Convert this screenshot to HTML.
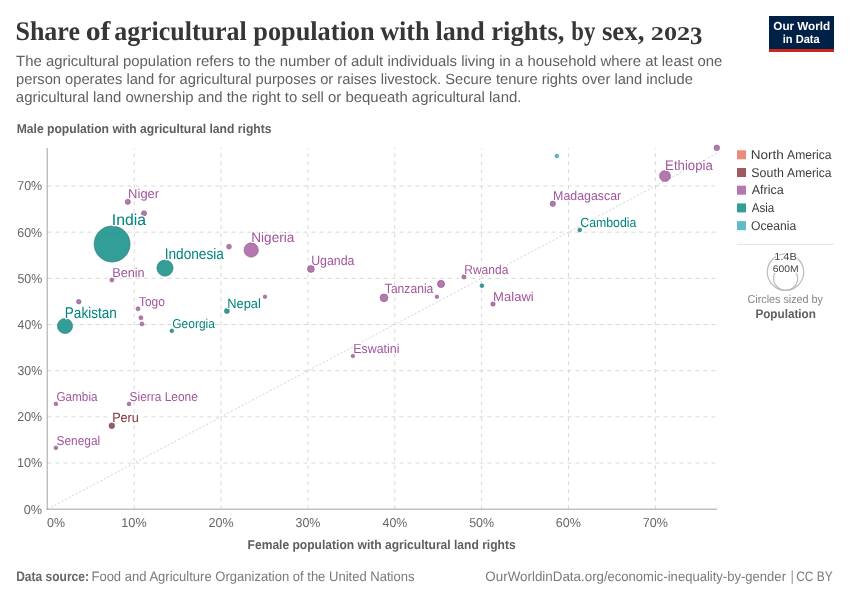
<!DOCTYPE html>
<html lang="en">
<head>
<meta charset="utf-8">
<title>Share of agricultural population with land rights, by sex, 2023</title>
<style>
html,body{margin:0;padding:0;background:#ffffff;}
body{width:850px;height:600px;overflow:hidden;}
svg{display:block;font-family:"Liberation Sans", sans-serif;will-change:transform;text-rendering:geometricPrecision;}
text{white-space:pre;}
.h{paint-order:stroke fill;stroke:#ffffff;stroke-linejoin:round;}
</style>
</head>
<body>
<svg width="850" height="600" viewBox="0 0 850 600">
<rect x="0" y="0" width="850" height="600" fill="#ffffff"/>
<text x="15.44" y="39.80" font-size="27" fill="#363636" font-family='"Liberation Serif", serif' font-weight="bold" textLength="64.47" lengthAdjust="spacingAndGlyphs">Share</text>
<text x="85.68" y="39.80" font-size="27" fill="#363636" font-family='"Liberation Serif", serif' font-weight="bold" textLength="24.84" lengthAdjust="spacingAndGlyphs">of</text>
<text x="114.16" y="39.80" font-size="27" fill="#363636" font-family='"Liberation Serif", serif' font-weight="bold" textLength="132.61" lengthAdjust="spacingAndGlyphs">agricultural</text>
<text x="253.27" y="39.80" font-size="27" fill="#363636" font-family='"Liberation Serif", serif' font-weight="bold" textLength="121.25" lengthAdjust="spacingAndGlyphs">population</text>
<text x="380.23" y="39.80" font-size="27" fill="#363636" font-family='"Liberation Serif", serif' font-weight="bold" textLength="49.40" lengthAdjust="spacingAndGlyphs">with</text>
<text x="435.58" y="39.80" font-size="27" fill="#363636" font-family='"Liberation Serif", serif' font-weight="bold" textLength="49.08" lengthAdjust="spacingAndGlyphs">land</text>
<text x="491.27" y="39.80" font-size="27" fill="#363636" font-family='"Liberation Serif", serif' font-weight="bold" textLength="73.13" lengthAdjust="spacingAndGlyphs">rights,</text>
<text x="571.32" y="39.80" font-size="27" fill="#363636" font-family='"Liberation Serif", serif' font-weight="bold" textLength="24.04" lengthAdjust="spacingAndGlyphs">by</text>
<text x="601.89" y="39.80" font-size="27" fill="#363636" font-family='"Liberation Serif", serif' font-weight="bold" textLength="42.63" lengthAdjust="spacingAndGlyphs">sex,</text>
<text x="650.79" y="39.80" font-size="19.5" fill="#363636" font-family='"Liberation Serif", serif' font-weight="bold" textLength="39.33" lengthAdjust="spacingAndGlyphs">202</text>
<text x="690.07" y="43.60" font-size="25" fill="#363636" font-family='"Liberation Serif", serif' font-weight="bold" textLength="12.40" lengthAdjust="spacingAndGlyphs">3</text>
<text x="16.06" y="65.70" font-size="14.8" fill="#5f5f5f" textLength="706.29" lengthAdjust="spacingAndGlyphs">The agricultural population refers to the number of adult individuals living in a household where at least one</text>
<text x="16.04" y="83.80" font-size="14.8" fill="#5f5f5f" textLength="676.89" lengthAdjust="spacingAndGlyphs">person operates land for agricultural purposes or raises livestock. Secure tenure rights over land include</text>
<text x="15.87" y="101.90" font-size="14.8" fill="#5f5f5f" textLength="505.58" lengthAdjust="spacingAndGlyphs">agricultural land ownership and the right to sell or bequeath agricultural land.</text>
<rect x="769" y="16" width="65" height="36" fill="#002147"/>
<rect x="769" y="49" width="65" height="3" fill="#ce261e"/>
<text x="773.33" y="30.40" font-size="11.7" fill="#ffffff" font-weight="bold" textLength="56.83" lengthAdjust="spacingAndGlyphs">Our World</text>
<text x="782.72" y="42.60" font-size="11.8" fill="#ffffff" font-weight="bold" textLength="37.01" lengthAdjust="spacingAndGlyphs">in Data</text>
<text x="16.68" y="132.80" font-size="12.8" fill="#5e5e5e" font-weight="bold" textLength="254.83" lengthAdjust="spacingAndGlyphs">Male population with agricultural land rights</text>
<g stroke="#d8d8d8" stroke-width="1" stroke-dasharray="4,4" fill="none">
<line x1="47.40" y1="463.03" x2="717.00" y2="463.03"/>
<line x1="47.40" y1="416.86" x2="717.00" y2="416.86"/>
<line x1="47.40" y1="370.69" x2="717.00" y2="370.69"/>
<line x1="47.40" y1="324.52" x2="717.00" y2="324.52"/>
<line x1="47.40" y1="278.35" x2="717.00" y2="278.35"/>
<line x1="47.40" y1="232.18" x2="717.00" y2="232.18"/>
<line x1="47.40" y1="186.01" x2="717.00" y2="186.01"/>
<line x1="134.25" y1="509.20" x2="134.25" y2="148.00"/>
<line x1="221.10" y1="509.20" x2="221.10" y2="148.00"/>
<line x1="307.95" y1="509.20" x2="307.95" y2="148.00"/>
<line x1="394.80" y1="509.20" x2="394.80" y2="148.00"/>
<line x1="481.65" y1="509.20" x2="481.65" y2="148.00"/>
<line x1="568.50" y1="509.20" x2="568.50" y2="148.00"/>
<line x1="655.35" y1="509.20" x2="655.35" y2="148.00"/>
</g>
<line x1="47.40" y1="509.20" x2="717.00" y2="153.24" stroke="#d2d2d2" stroke-width="1" stroke-dasharray="2,2"/>
<line x1="47.20" y1="148.00" x2="47.20" y2="509.70" stroke="#a3a3a3" stroke-width="1"/>
<line x1="46.70" y1="509.20" x2="717.00" y2="509.20" stroke="#a3a3a3" stroke-width="1"/>
<text x="23.79" y="513.60" font-size="12.9" fill="#666666" textLength="18.39" lengthAdjust="spacingAndGlyphs">0%</text>
<text x="16.96" y="467.43" font-size="12.9" fill="#666666" textLength="25.20" lengthAdjust="spacingAndGlyphs">10%</text>
<text x="17.28" y="421.26" font-size="12.9" fill="#666666" textLength="24.88" lengthAdjust="spacingAndGlyphs">20%</text>
<text x="17.44" y="375.09" font-size="12.9" fill="#666666" textLength="24.71" lengthAdjust="spacingAndGlyphs">30%</text>
<text x="17.62" y="328.92" font-size="12.9" fill="#666666" textLength="24.52" lengthAdjust="spacingAndGlyphs">40%</text>
<text x="17.41" y="282.75" font-size="12.9" fill="#666666" textLength="24.75" lengthAdjust="spacingAndGlyphs">50%</text>
<text x="17.28" y="236.58" font-size="12.9" fill="#666666" textLength="24.88" lengthAdjust="spacingAndGlyphs">60%</text>
<text x="17.25" y="190.41" font-size="12.9" fill="#666666" textLength="24.91" lengthAdjust="spacingAndGlyphs">70%</text>
<text x="47.10" y="527.40" font-size="12.9" fill="#666666" textLength="17.97" lengthAdjust="spacingAndGlyphs">0%</text>
<text x="121.30" y="527.40" font-size="12.9" fill="#666666" textLength="25.42" lengthAdjust="spacingAndGlyphs">10%</text>
<text x="208.47" y="527.40" font-size="12.9" fill="#666666" textLength="25.08" lengthAdjust="spacingAndGlyphs">20%</text>
<text x="295.48" y="527.40" font-size="12.9" fill="#666666" textLength="24.92" lengthAdjust="spacingAndGlyphs">30%</text>
<text x="382.52" y="527.40" font-size="12.9" fill="#666666" textLength="24.73" lengthAdjust="spacingAndGlyphs">40%</text>
<text x="469.15" y="527.40" font-size="12.9" fill="#666666" textLength="24.95" lengthAdjust="spacingAndGlyphs">50%</text>
<text x="555.87" y="527.40" font-size="12.9" fill="#666666" textLength="25.08" lengthAdjust="spacingAndGlyphs">60%</text>
<text x="642.69" y="527.40" font-size="12.9" fill="#666666" textLength="25.12" lengthAdjust="spacingAndGlyphs">70%</text>
<text x="247.59" y="548.80" font-size="12.8" fill="#5e5e5e" font-weight="bold" textLength="268.10" lengthAdjust="spacingAndGlyphs">Female population with agricultural land rights</text>
<circle cx="112.1" cy="244.0" r="18.0" fill="#00847E" fill-opacity="0.8" stroke="#2a6f6b" stroke-width="0.6" stroke-opacity="0.9"/>
<circle cx="165.0" cy="268.1" r="8.1" fill="#00847E" fill-opacity="0.8" stroke="#2a6f6b" stroke-width="0.6" stroke-opacity="0.9"/>
<circle cx="65.0" cy="326.0" r="7.6" fill="#00847E" fill-opacity="0.8" stroke="#2a6f6b" stroke-width="0.6" stroke-opacity="0.9"/>
<circle cx="251.2" cy="250.0" r="7.2" fill="#A2559C" fill-opacity="0.8" stroke="#85507f" stroke-width="0.6" stroke-opacity="0.9"/>
<circle cx="665.0" cy="176.0" r="5.5" fill="#A2559C" fill-opacity="0.8" stroke="#85507f" stroke-width="0.6" stroke-opacity="0.9"/>
<circle cx="384.0" cy="297.8" r="3.9" fill="#A2559C" fill-opacity="0.8" stroke="#85507f" stroke-width="0.6" stroke-opacity="0.9"/>
<circle cx="441.0" cy="283.9" r="3.6" fill="#A2559C" fill-opacity="0.8" stroke="#85507f" stroke-width="0.6" stroke-opacity="0.9"/>
<circle cx="310.9" cy="269.0" r="3.4" fill="#A2559C" fill-opacity="0.8" stroke="#85507f" stroke-width="0.6" stroke-opacity="0.9"/>
<circle cx="716.8" cy="147.8" r="2.8" fill="#A2559C" fill-opacity="0.8" stroke="#85507f" stroke-width="0.6" stroke-opacity="0.9"/>
<circle cx="111.8" cy="425.7" r="2.8" fill="#883039" fill-opacity="0.8" stroke="#6e3a40" stroke-width="0.6" stroke-opacity="0.9"/>
<circle cx="552.8" cy="203.8" r="2.7" fill="#A2559C" fill-opacity="0.8" stroke="#85507f" stroke-width="0.6" stroke-opacity="0.9"/>
<circle cx="127.8" cy="201.8" r="2.6" fill="#A2559C" fill-opacity="0.8" stroke="#85507f" stroke-width="0.6" stroke-opacity="0.9"/>
<circle cx="144.0" cy="213.3" r="2.6" fill="#A2559C" fill-opacity="0.8" stroke="#85507f" stroke-width="0.6" stroke-opacity="0.9"/>
<circle cx="226.9" cy="311.0" r="2.5" fill="#00847E" fill-opacity="0.8" stroke="#2a6f6b" stroke-width="0.6" stroke-opacity="0.9"/>
<circle cx="229.0" cy="246.7" r="2.4" fill="#A2559C" fill-opacity="0.8" stroke="#85507f" stroke-width="0.6" stroke-opacity="0.9"/>
<circle cx="78.8" cy="301.7" r="2.3" fill="#A2559C" fill-opacity="0.8" stroke="#85507f" stroke-width="0.6" stroke-opacity="0.9"/>
<circle cx="493.0" cy="304.0" r="2.2" fill="#A2559C" fill-opacity="0.8" stroke="#85507f" stroke-width="0.6" stroke-opacity="0.9"/>
<circle cx="463.9" cy="276.9" r="2.1" fill="#A2559C" fill-opacity="0.8" stroke="#85507f" stroke-width="0.6" stroke-opacity="0.9"/>
<circle cx="111.8" cy="280.0" r="2.0" fill="#A2559C" fill-opacity="0.8" stroke="#85507f" stroke-width="0.6" stroke-opacity="0.9"/>
<circle cx="138.0" cy="308.8" r="2.0" fill="#A2559C" fill-opacity="0.8" stroke="#85507f" stroke-width="0.6" stroke-opacity="0.9"/>
<circle cx="140.9" cy="317.8" r="2.0" fill="#A2559C" fill-opacity="0.8" stroke="#85507f" stroke-width="0.6" stroke-opacity="0.9"/>
<circle cx="141.9" cy="323.9" r="2.0" fill="#A2559C" fill-opacity="0.8" stroke="#85507f" stroke-width="0.6" stroke-opacity="0.9"/>
<circle cx="171.8" cy="330.8" r="1.9" fill="#00847E" fill-opacity="0.8" stroke="#2a6f6b" stroke-width="0.6" stroke-opacity="0.9"/>
<circle cx="55.9" cy="403.9" r="1.9" fill="#A2559C" fill-opacity="0.8" stroke="#85507f" stroke-width="0.6" stroke-opacity="0.9"/>
<circle cx="129.0" cy="403.9" r="1.9" fill="#A2559C" fill-opacity="0.8" stroke="#85507f" stroke-width="0.6" stroke-opacity="0.9"/>
<circle cx="55.9" cy="447.8" r="1.9" fill="#A2559C" fill-opacity="0.8" stroke="#85507f" stroke-width="0.6" stroke-opacity="0.9"/>
<circle cx="481.9" cy="285.7" r="1.9" fill="#00847E" fill-opacity="0.8" stroke="#2a6f6b" stroke-width="0.6" stroke-opacity="0.9"/>
<circle cx="579.8" cy="230.0" r="1.9" fill="#00847E" fill-opacity="0.8" stroke="#2a6f6b" stroke-width="0.6" stroke-opacity="0.9"/>
<circle cx="556.8" cy="156.0" r="1.9" fill="#38AABA" fill-opacity="0.8" stroke="#3f8f9b" stroke-width="0.6" stroke-opacity="0.9"/>
<circle cx="436.9" cy="296.7" r="1.8" fill="#A2559C" fill-opacity="0.8" stroke="#85507f" stroke-width="0.6" stroke-opacity="0.9"/>
<circle cx="265.0" cy="296.8" r="1.8" fill="#A2559C" fill-opacity="0.8" stroke="#85507f" stroke-width="0.6" stroke-opacity="0.9"/>
<circle cx="352.9" cy="356.0" r="1.8" fill="#A2559C" fill-opacity="0.8" stroke="#85507f" stroke-width="0.6" stroke-opacity="0.9"/>
<text x="111.74" y="225.05" font-size="15.8" fill="#00847E" textLength="34.28" lengthAdjust="spacingAndGlyphs" class="h" stroke-width="2.53">India</text>
<text x="164.64" y="259.05" font-size="15.3" fill="#00847E" textLength="59.29" lengthAdjust="spacingAndGlyphs" class="h" stroke-width="2.45">Indonesia</text>
<text x="64.78" y="317.55" font-size="15.5" fill="#00847E" textLength="52.11" lengthAdjust="spacingAndGlyphs" class="h" stroke-width="2.48">Pakistan</text>
<text x="251.28" y="242.05" font-size="13.8" fill="#A2559C" textLength="43.13" lengthAdjust="spacingAndGlyphs" class="h" stroke-width="2.21">Nigeria</text>
<text x="665.11" y="169.55" font-size="13.8" fill="#A2559C" textLength="47.61" lengthAdjust="spacingAndGlyphs" class="h" stroke-width="2.21">Ethiopia</text>
<text x="384.83" y="293.05" font-size="13.3" fill="#A2559C" textLength="48.48" lengthAdjust="spacingAndGlyphs" class="h" stroke-width="2.13">Tanzania</text>
<text x="311.14" y="264.85" font-size="13.3" fill="#A2559C" textLength="43.26" lengthAdjust="spacingAndGlyphs" class="h" stroke-width="2.13">Uganda</text>
<text x="112.16" y="422.15" font-size="13.3" fill="#883039" textLength="26.69" lengthAdjust="spacingAndGlyphs" class="h" stroke-width="2.13">Peru</text>
<text x="553.08" y="200.05" font-size="12.9" fill="#A2559C" textLength="68.11" lengthAdjust="spacingAndGlyphs" class="h" stroke-width="2.06">Madagascar</text>
<text x="128.13" y="198.35" font-size="12.9" fill="#A2559C" textLength="31.06" lengthAdjust="spacingAndGlyphs" class="h" stroke-width="2.06">Niger</text>
<text x="227.34" y="307.55" font-size="13.3" fill="#00847E" textLength="33.53" lengthAdjust="spacingAndGlyphs" class="h" stroke-width="2.13">Nepal</text>
<text x="493.12" y="300.95" font-size="12.9" fill="#A2559C" textLength="40.65" lengthAdjust="spacingAndGlyphs" class="h" stroke-width="2.06">Malawi</text>
<text x="464.21" y="274.25" font-size="12.9" fill="#A2559C" textLength="44.11" lengthAdjust="spacingAndGlyphs" class="h" stroke-width="2.06">Rwanda</text>
<text x="112.15" y="276.65" font-size="12.9" fill="#A2559C" textLength="32.58" lengthAdjust="spacingAndGlyphs" class="h" stroke-width="2.06">Benin</text>
<text x="138.93" y="305.85" font-size="12.9" fill="#A2559C" textLength="25.96" lengthAdjust="spacingAndGlyphs" class="h" stroke-width="2.06">Togo</text>
<text x="172.30" y="327.85" font-size="12.9" fill="#00847E" textLength="42.60" lengthAdjust="spacingAndGlyphs" class="h" stroke-width="2.06">Georgia</text>
<text x="56.51" y="400.65" font-size="12.9" fill="#A2559C" textLength="41.00" lengthAdjust="spacingAndGlyphs" class="h" stroke-width="2.06">Gambia</text>
<text x="129.56" y="400.65" font-size="12.9" fill="#A2559C" textLength="68.26" lengthAdjust="spacingAndGlyphs" class="h" stroke-width="2.06">Sierra Leone</text>
<text x="56.56" y="444.95" font-size="12.9" fill="#A2559C" textLength="43.64" lengthAdjust="spacingAndGlyphs" class="h" stroke-width="2.06">Senegal</text>
<text x="580.28" y="227.05" font-size="13.3" fill="#00847E" textLength="56.12" lengthAdjust="spacingAndGlyphs" class="h" stroke-width="2.13">Cambodia</text>
<text x="353.28" y="352.85" font-size="12.9" fill="#A2559C" textLength="46.14" lengthAdjust="spacingAndGlyphs" class="h" stroke-width="2.06">Eswatini</text>
<rect x="737" y="150.30" width="9" height="9" fill="#E56E5A" fill-opacity="0.8"/>
<text x="750.78" y="159.00" font-size="12.7" fill="#3d3d3d" textLength="33.10" lengthAdjust="spacingAndGlyphs">North</text>
<text x="787.07" y="159.00" font-size="12.7" fill="#3d3d3d" textLength="44.53" lengthAdjust="spacingAndGlyphs">America</text>
<rect x="737" y="168.00" width="9" height="9" fill="#883039" fill-opacity="0.8"/>
<text x="751.34" y="176.70" font-size="12.7" fill="#3d3d3d" textLength="32.48" lengthAdjust="spacingAndGlyphs">South</text>
<text x="787.07" y="176.70" font-size="12.7" fill="#3d3d3d" textLength="44.53" lengthAdjust="spacingAndGlyphs">America</text>
<rect x="737" y="185.70" width="9" height="9" fill="#A2559C" fill-opacity="0.8"/>
<text x="751.67" y="194.40" font-size="12.7" fill="#3d3d3d" textLength="32.05" lengthAdjust="spacingAndGlyphs">Africa</text>
<rect x="737" y="203.40" width="9" height="9" fill="#00847E" fill-opacity="0.8"/>
<text x="751.67" y="212.10" font-size="12.7" fill="#3d3d3d" textLength="22.53" lengthAdjust="spacingAndGlyphs">Asia</text>
<rect x="737" y="221.10" width="9" height="9" fill="#38AABA" fill-opacity="0.8"/>
<text x="751.12" y="229.80" font-size="12.7" fill="#3d3d3d" textLength="45.10" lengthAdjust="spacingAndGlyphs">Oceania</text>
<line x1="737" y1="244.3" x2="833.7" y2="244.3" stroke="#e2e2e2" stroke-width="1"/>
<circle cx="785.5" cy="272.1" r="18.2" fill="none" stroke="#bbbbbb" stroke-width="1.2"/>
<circle cx="785.6" cy="278.3" r="12.0" fill="none" stroke="#bbbbbb" stroke-width="1.2"/>
<text x="774.17" y="259.90" font-size="10.2" fill="#444444" textLength="22.70" lengthAdjust="spacingAndGlyphs" class="h" stroke-width="2.00">1.4B</text>
<text x="772.78" y="271.70" font-size="9.6" fill="#444444" textLength="25.89" lengthAdjust="spacingAndGlyphs" class="h" stroke-width="2.00">600M</text>
<text x="747.46" y="303.40" font-size="11.5" fill="#858585" textLength="75.56" lengthAdjust="spacingAndGlyphs">Circles sized by</text>
<text x="755.41" y="317.60" font-size="12.4" fill="#5e5e5e" font-weight="bold" textLength="60.51" lengthAdjust="spacingAndGlyphs">Population</text>
<text x="16.19" y="580.80" font-size="13.7" fill="#666666" font-weight="bold" textLength="72.76" lengthAdjust="spacingAndGlyphs">Data source:</text>
<text x="91.43" y="580.80" font-size="13.7" fill="#7a7a7a" textLength="323.04" lengthAdjust="spacingAndGlyphs">Food and Agriculture Organization of the United Nations</text>
<text x="485.36" y="580.80" font-size="13.7" fill="#7a7a7a" textLength="118.70" lengthAdjust="spacingAndGlyphs">OurWorldinData.org</text>
<text x="603.90" y="580.80" font-size="13.7" fill="#7a7a7a" textLength="182.09" lengthAdjust="spacingAndGlyphs">/economic-inequality-by-gender</text>
<rect x="791.7" y="570.3" width="1" height="13.5" fill="#8a8a8a"/>
<text x="796.20" y="580.80" font-size="13.7" fill="#7a7a7a" textLength="36.55" lengthAdjust="spacingAndGlyphs">CC BY</text>
</svg>
</body>
</html>
